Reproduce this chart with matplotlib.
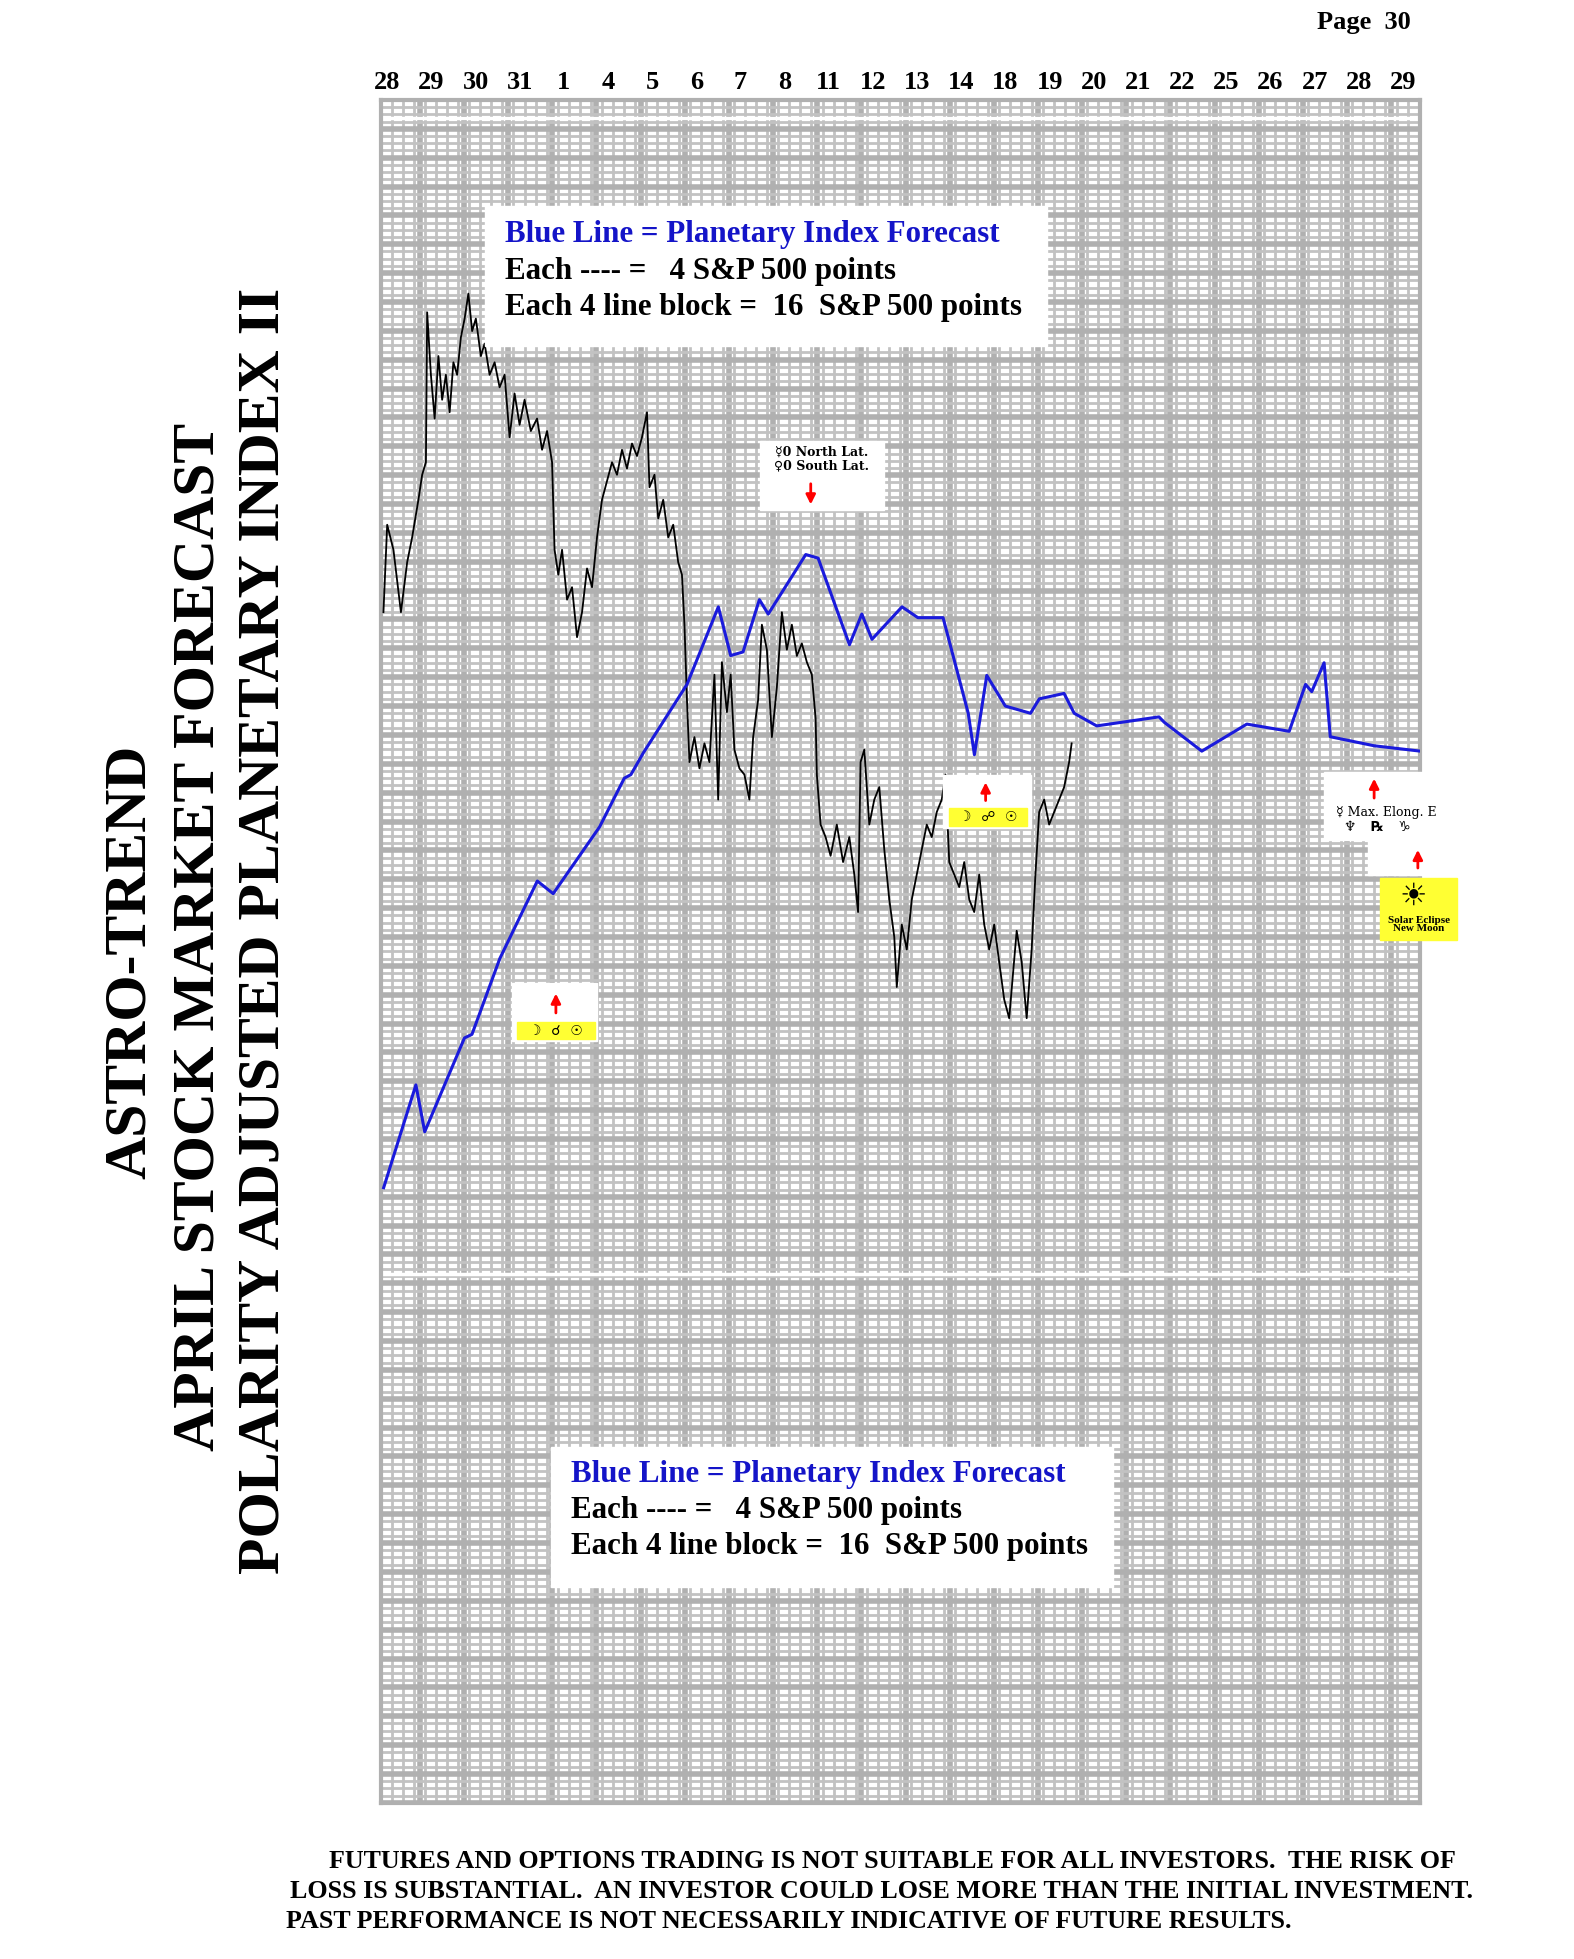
import matplotlib
matplotlib.use("Agg")
import matplotlib.pyplot as plt
import numpy as np

plt.rcParams['font.family'] = ['Liberation Serif', 'DejaVu Serif', 'DejaVu Sans']

dates = ["28","29","30","31","1","4","5","6","7","8","11","12","13","14","18","19","20","21","22","25","26","27","28","29"]

# Values: (day position, level in S&P points above chart bottom)
blue_pts = [(-0.08,341),(0.65,398),(0.85,372),(1.75,424),(1.92,426),(2.55,468),(3.4,511),(3.76,504),(4.81,541),(5.37,568),(5.52,570),(5.8,582),(6.79,620),(7.5,663),(7.78,636),(8.06,638),(8.43,667),(8.63,659),(9.48,692),(9.76,690),(10.47,642),(10.75,659),(10.98,645),(11.66,663),(12.02,657),(12.59,657),(13.16,604),(13.3,581),(13.58,625),(14.0,608),(14.57,604),(14.77,612),(15.33,615),(15.56,604),(16.07,597),(17.48,602),(17.6,599),(18.45,583),(19.47,598),(20.43,594),(20.8,620),(20.94,616),(21.22,632),(21.36,591),(22.35,586),(23.4,583)]

black_raw = [(307,490),(310,420),(315,440),(321,490),(326,450),(330,430),(335,400),(338,380),(341,370),(342,250),(345,300),(348,335),(351,285),(354,320),(357,300),(360,330),(363,290),(366,300),(369,270),(372,255),(375,235),(378,265),(381,255),(385,285),(388,275),(392,300),(396,290),(400,310),(404,300),(408,350),(412,315),(416,340),(420,320),(425,345),(430,335),(434,360),(438,345),(442,370),(444,440),(447,460),(450,440),(454,480),(458,470),(462,510),(466,490),(470,455),(474,470),(478,430),(482,400),(486,385),(490,370),(494,380),(498,360),(502,375),(506,355),(510,365),(514,350),(518,330),(520,390),(524,380),(527,415),(531,400),(535,430),(539,420),(543,450),(546,460),(548,500),(550,560),(552,610),(556,590),(560,615),(564,595),(568,610),(572,540),(575,640),(578,530),(582,570),(585,540),(588,600),(592,615),(596,620),(600,640),(603,590),(607,560),(610,500),(614,520),(618,590),(622,550),(626,490),(630,520),(634,500),(638,525),(642,515),(646,530),(650,540),(653,575),(654,620),(657,660),(661,670),(665,685),(670,660),(675,690),(680,670),(684,700),(687,730),(689,610),(692,600),(696,660),(700,640),(704,630),(708,680),(712,720),(716,750),(718,790),(722,740),(726,760),(730,720),(734,700),(738,680),(742,660),(746,670),(750,650),(754,640),(757,620),(760,690),(764,700),(768,710),(772,690),(776,720),(780,730),(784,700),(788,740),(792,760),(796,740),(800,770),(804,800),(808,815),(811,780),(814,745),(818,770),(822,815),(826,760),(829,700),(832,650),(836,640),(840,660),(844,650),(848,640),(852,630),(856,610),(858,595)]
# convert readings (read on the page) into day / level units
black_x = [(x - 310) / 35.35 for x, y in black_raw]
black_y = [(1443 - y) / 1363 * 944 for x, y in black_raw]
blue_x = [p[0] for p in blue_pts]
blue_y = [p[1] for p in blue_pts]

W, H = 1260.0, 1568.0
fig = plt.figure(figsize=(15.74, 19.59), dpi=100)

ax = fig.add_axes([305/W, 1-1443/H, (1137-305)/W, (1443-80)/H])
ax.set_xlim(-0.14, 23.4)
ax.set_ylim(0, 944)
ax.set_xticks([]); ax.set_yticks([])
for s in ax.spines.values():
    s.set_color('#b0b0b0'); s.set_linewidth(3)
gc = '#c2c2c2'
for xv in np.arange(-0.14, 23.4, 0.25):
    ax.axvline(xv, color=gc, lw=2.0, zorder=0)
for xv in np.arange(-0.14, 23.4, 1.0):
    ax.axvline(xv + 0.88, color='#b0b0b0', lw=4, zorder=0)
for yv in np.arange(0, 944, 4):
    ax.axhline(yv, color=gc, lw=2.0, zorder=0)
for yv in np.arange(0, 944, 16):
    ax.axhline(yv, color='#b0b0b0', lw=4, zorder=0)
ax.axhline(934, color='white', lw=2.5, zorder=0.5)
ax.axhline(293, color='white', lw=2.5, zorder=0.5)

ax.plot(black_x, black_y, color='black', lw=1.3, zorder=3)
ax.plot(blue_x, blue_y, color='#1a1adc', lw=2.2, zorder=4)

bg = fig.add_axes([0, 0, 1, 1], zorder=10)
bg.set_xlim(0, W); bg.set_ylim(H, 0); bg.axis('off')
bg.patch.set_alpha(0)

for i, d in enumerate(dates):
    px = 310 + i*35.35
    bg.text(px, 66, d, ha='center', va='center', fontsize=19, fontweight='bold')
bg.text(1092, 18, "Page  30", ha='center', va='center', fontsize=19, fontweight='bold')

titles = [(105, 770, "ASTRO-TREND"), (160, 750, "APRIL STOCK MARKET FORECAST"),
          (212, 745, "POLARITY ADJUSTED PLANETARY INDEX II")]
for x, y, t in titles:
    bg.text(x, y, t, rotation=90, ha='center', va='center', fontsize=43, fontweight='bold')

def legend_box(x0, y0, x1, y1, tx, ty):
    bg.add_patch(plt.Rectangle((x0, y0), x1-x0, y1-y0, color='white', zorder=5))
    bg.text(tx, ty, "Blue Line = Planetary Index Forecast", color='#1414c8', fontsize=22.3, fontweight='bold', va='center', zorder=6)
    bg.text(tx, ty+29, "Each ---- =   4 S&P 500 points", fontsize=22.3, fontweight='bold', va='center', zorder=6)
    bg.text(tx, ty+58, "Each 4 line block =  16  S&P 500 points", fontsize=22.3, fontweight='bold', va='center', zorder=6)
legend_box(388, 165, 838, 277, 404, 188)
legend_box(441, 1158, 891, 1270, 457, 1180)

def box(x0, y0, x1, y1, fc='white'):
    bg.add_patch(plt.Rectangle((x0, y0), x1-x0, y1-y0, color=fc, zorder=5))

def arrow(x, y0, y1):
    bg.annotate('', xy=(x, y1), xytext=(x, y0), zorder=7,
                arrowprops=dict(arrowstyle='-|>', color='red', lw=2, mutation_scale=14))

sym = ['DejaVu Sans']
box(608, 353, 708, 408)
bg.text(658, 362, "☿0 North Lat.", ha='center', va='center', fontsize=9, fontweight='bold', zorder=6, family=['DejaVu Serif', 'DejaVu Sans'])
bg.text(658, 373, "♀0 South Lat.", ha='center', va='center', fontsize=9, fontweight='bold', zorder=6, family=['DejaVu Serif', 'DejaVu Sans'])
arrow(649, 385, 406)

box(410, 787, 478, 833)
arrow(445, 813, 793)
box(414, 818, 476, 832, '#ffff33')
bg.text(445, 825, "☽  ☌  ☉", ha='center', va='center', fontsize=10, fontweight='bold', zorder=6, family=sym)

box(755, 620, 825, 663)
arrow(789, 643, 624)
box(760, 647, 822, 661, '#ffff33')
bg.text(791, 654, "☽  ☍  ☉", ha='center', va='center', fontsize=10, fontweight='bold', zorder=6, family=sym)

box(1060, 618, 1160, 672)
arrow(1100, 641, 621)
bg.text(1110, 650, "☿ Max. Elong. E", ha='center', va='center', fontsize=9, zorder=6, family=['DejaVu Serif', 'DejaVu Sans'])
bg.text(1103, 662, "♆   ℞   ♑", ha='center', va='center', fontsize=10, fontweight='bold', zorder=6, family=sym)
box(1095, 672, 1160, 700)
arrow(1135, 697, 678)
box(1105, 703, 1166, 752, '#ffff33')
bg.text(1131, 717, "☀", ha='center', va='center', fontsize=22, zorder=6, family=sym)
bg.text(1136, 740, "Solar Eclipse\nNew Moon", ha='center', va='center', fontsize=8, fontweight='bold', zorder=6, linespacing=0.9)

disc = ["FUTURES AND OPTIONS TRADING IS NOT SUITABLE FOR ALL INVESTORS.  THE RISK OF",
        "LOSS IS SUBSTANTIAL.  AN INVESTOR COULD LOSE MORE THAN THE INITIAL INVESTMENT.",
        "PAST PERFORMANCE IS NOT NECESSARILY INDICATIVE OF FUTURE RESULTS."]
bg.text(263, 1490, disc[0], ha='left', va='center', fontsize=18.7, fontweight='bold')
bg.text(232, 1514, disc[1], ha='left', va='center', fontsize=18.7, fontweight='bold')
bg.text(229, 1538, disc[2], ha='left', va='center', fontsize=18.7, fontweight='bold')

fig.savefig("out.png", dpi=100)
